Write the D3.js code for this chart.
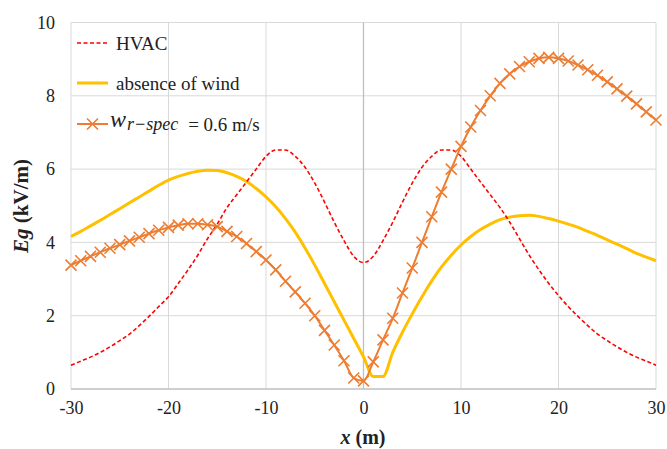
<!DOCTYPE html>
<html><head><meta charset="utf-8">
<script src="https://cdn.jsdelivr.net/npm/d3@7"></script>
<style>body{margin:0;background:#fff}svg{display:block}</style>
</head><body><svg id="c" width="667" height="449"></svg>
<script>
const xTicks = [-30,-20,-10,0,10,20,30];
const yTicks = [0,2,4,6,8,10];
const xs = d3.range(-30,31);
const hvac = [0.65,0.76,0.87,1.0,1.15,1.32,1.5,1.73,1.98,2.25,2.52,2.88,3.25,3.65,4.1,4.5,4.95,5.3,5.65,6.0,6.35,6.52,6.52,6.35,6.05,5.62,5.1,4.55,4.05,3.62,3.45,3.62,4.05,4.55,5.1,5.62,6.05,6.35,6.52,6.52,6.35,6.0,5.65,5.3,4.95,4.55,4.1,3.65,3.25,2.88,2.55,2.25,1.98,1.73,1.5,1.32,1.15,1.0,0.87,0.76,0.65];
const noWind = [4.16,4.3,4.45,4.6,4.76,4.92,5.08,5.24,5.4,5.56,5.7,5.8,5.88,5.94,5.97,5.96,5.9,5.8,5.66,5.47,5.24,4.97,4.65,4.28,3.85,3.38,2.88,2.38,1.88,1.38,0.88,0.34,0.34,1.0,1.55,2.05,2.52,2.95,3.33,3.65,3.93,4.16,4.35,4.5,4.62,4.69,4.73,4.74,4.71,4.65,4.58,4.5,4.41,4.3,4.19,4.07,3.95,3.83,3.7,3.6,3.5];
const wind = [3.38,3.5,3.62,3.73,3.84,3.94,4.04,4.14,4.24,4.33,4.41,4.47,4.51,4.51,4.48,4.43,4.3,4.16,3.97,3.75,3.52,3.25,2.94,2.65,2.34,2.0,1.6,1.2,0.77,0.3,0.22,0.74,1.34,1.93,2.62,3.3,4.0,4.7,5.37,6.0,6.62,7.15,7.6,8.0,8.34,8.6,8.8,8.93,9.02,9.05,9.02,8.95,8.84,8.71,8.56,8.38,8.19,7.99,7.78,7.56,7.34];

const svg = d3.select('#c');
const L=71,R=656,T=22.5,B=389;
const x = d3.scaleLinear().domain([-30,30]).range([L,R]);
const y = d3.scaleLinear().domain([0,10]).range([B,T]);
const font = "'Liberation Serif','Times New Roman',serif";

// grid
svg.append('g').selectAll('line').data(yTicks.filter(d=>d>0)).join('line')
  .attr('x1',L).attr('x2',R).attr('y1',d=>y(d)).attr('y2',d=>y(d))
  .attr('stroke','#d9d9d9').attr('stroke-width',1);
svg.append('g').selectAll('line').data(xTicks.filter(d=>d!==0)).join('line')
  .attr('x1',d=>x(d)).attr('x2',d=>x(d)).attr('y1',T).attr('y2',B)
  .attr('stroke','#d9d9d9').attr('stroke-width',1);
svg.append('line').attr('x1',x(0)).attr('x2',x(0)).attr('y1',T).attr('y2',B).attr('stroke','#bfbfbf').attr('stroke-width',1.3);
svg.append('line').attr('x1',L).attr('x2',R).attr('y1',B).attr('y2',B).attr('stroke','#bfbfbf').attr('stroke-width',1.3);

// tick labels
const xa = d3.axisBottom(x).tickValues(xTicks).tickSize(0).tickPadding(12).tickFormat(d=>String(d));
const gx = svg.append('g').attr('transform',`translate(0,${B})`).call(xa);
gx.select('.domain').remove();
gx.selectAll('text').attr('font-family',font).attr('font-size',18).attr('fill','#222');
const ya = d3.axisLeft(y).tickValues(yTicks).tickSize(0).tickPadding(0).tickFormat(d=>String(d));
const gy = svg.append('g').attr('transform',`translate(55,0)`).call(ya);
gy.select('.domain').remove();
gy.selectAll('text').attr('font-family',font).attr('font-size',18).attr('fill','#222');

// titles
const xt = svg.append('text').attr('x',363).attr('y',444).attr('text-anchor','middle')
  .attr('font-family',font).attr('font-size',20).attr('font-weight','bold').attr('fill','#222');
xt.append('tspan').attr('font-style','italic').text('x');
xt.append('tspan').text(' (m)');
const yt = svg.append('text').attr('transform','translate(28,206) rotate(-90)').attr('text-anchor','middle')
  .attr('font-family',font).attr('font-size',21).attr('font-weight','bold').attr('fill','#222');
yt.append('tspan').attr('font-style','italic').text('Eg');
yt.append('tspan').text(' (kV/m)');

// lines
const line = (arr)=>d3.line().x((d,i)=>x(xs[i])).y(d=>y(d)).curve(d3.curveMonotoneX)(arr);
svg.append('path').attr('d',line(noWind)).attr('fill','none').attr('stroke','#ffc000').attr('stroke-width',3);
svg.append('path').attr('d',line(hvac)).attr('fill','none').attr('stroke','#ff0000').attr('stroke-width',1.6).attr('stroke-dasharray','4,2.5');
const orange = '#ed7d31';
svg.append('path').attr('d',line(wind)).attr('fill','none').attr('stroke',orange).attr('stroke-width',2);
const m = 5.5;
const cross = `M${-m},${-m}L${m},${m}M${-m},${m}L${m},${-m}`;
svg.append('g').selectAll('path').data(wind).join('path')
  .attr('transform',(d,i)=>`translate(${x(xs[i])},${y(d)})`).attr('d',cross)
  .attr('stroke',orange).attr('stroke-width',1.6).attr('fill','none');

// legend
const lg = svg.append('g');
lg.append('line').attr('x1',77).attr('x2',108).attr('y1',43).attr('y2',43).attr('stroke','#ff0000').attr('stroke-width',1.6).attr('stroke-dasharray','4,2.5');
lg.append('text').attr('x',116).attr('y',49.5).attr('font-family',font).attr('font-size',19).attr('fill','#222').text('HVAC');
lg.append('line').attr('x1',77).attr('x2',108).attr('y1',83).attr('y2',83).attr('stroke','#ffc000').attr('stroke-width',3);
lg.append('text').attr('x',116).attr('y',89.5).attr('font-family',font).attr('font-size',19).attr('fill','#222').text('absence of wind');
lg.append('line').attr('x1',77).attr('x2',108).attr('y1',124).attr('y2',124).attr('stroke',orange).attr('stroke-width',2);
lg.append('path').attr('transform','translate(92.5,124)').attr('d',cross).attr('stroke',orange).attr('stroke-width',1.6);
const t3 = lg.append('text').attr('x',110).attr('y',127).attr('font-family',font).attr('font-size',19).attr('fill','#222');
t3.append('tspan').attr('font-style','italic').attr('font-size',24).text('w');
t3.append('tspan').attr('font-style','italic').attr('font-size',18).attr('dy',3).attr('dx',1).text('r−spec');
t3.append('tspan').attr('dy',0.5).attr('dx',10).text('= 0.6 m/s');
</script></body></html>
